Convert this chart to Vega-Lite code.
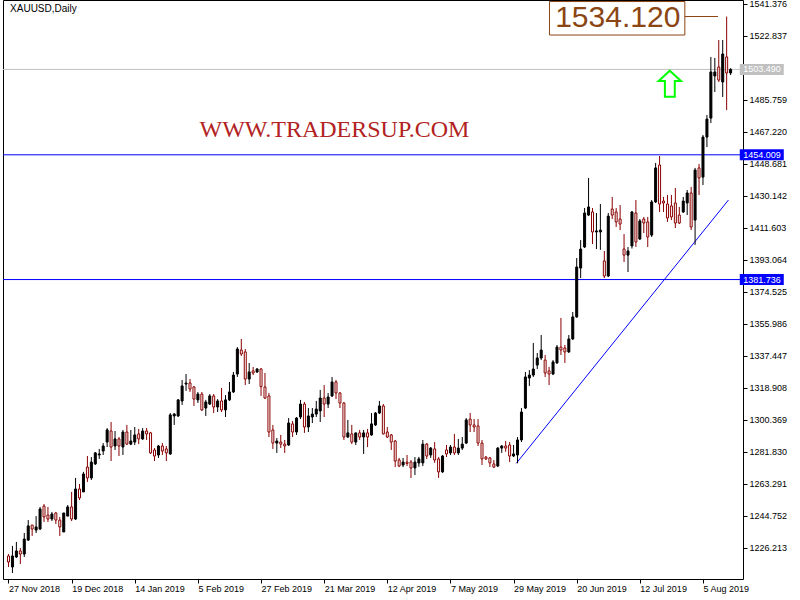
{
"$schema": "https://vega.github.io/schema/vega-lite/v6.json",
"width": 740, "height": 579,
"autosize": "none",
"padding": {"left": 3, "top": 0, "right": 57, "bottom": 21},
"background": "#ffffff",
"config": {
 "view": {"stroke": "#000000", "strokeWidth": 1},
 "axis": {"domain": false, "grid": false, "tickSize": 4, "tickColor": "#000000", "labelFont": "Liberation Sans", "labelFontSize": 9, "labelColor": "#000000", "labelFlush": false, "labelOverlap": false},
 "axisX": {"labelAlign": "left", "labelBaseline": "top", "labelPadding": 1},
 "axisY": {"labelAlign": "left", "labelBaseline": "middle", "labelPadding": 2}
},
"datasets": {"bars": [
{"i":0,"o":1221.6,"h":1222.7,"l":1215.2,"c":1218.1},
{"i":1,"o":1215.2,"h":1227.4,"l":1211.7,"c":1221.6},
{"i":2,"o":1221.0,"h":1229.7,"l":1220.4,"c":1224.5},
{"i":3,"o":1224.5,"h":1226.2,"l":1216.9,"c":1222.7},
{"i":4,"o":1222.7,"h":1234.9,"l":1221.0,"c":1231.4},
{"i":5,"o":1230.8,"h":1242.4,"l":1230.3,"c":1239.0},
{"i":6,"o":1239.5,"h":1239.5,"l":1233.2,"c":1237.2},
{"i":7,"o":1236.6,"h":1244.7,"l":1234.9,"c":1238.4},
{"i":8,"o":1237.2,"h":1250.0,"l":1236.6,"c":1248.8},
{"i":9,"o":1250.5,"h":1251.7,"l":1241.3,"c":1244.2},
{"i":10,"o":1245.3,"h":1250.0,"l":1241.3,"c":1243.0},
{"i":11,"o":1243.0,"h":1247.1,"l":1241.8,"c":1245.9},
{"i":12,"o":1246.5,"h":1247.1,"l":1240.1,"c":1242.4},
{"i":13,"o":1242.4,"h":1244.2,"l":1233.2,"c":1238.4},
{"i":14,"o":1235.5,"h":1246.5,"l":1235.5,"c":1246.5},
{"i":15,"o":1244.7,"h":1251.1,"l":1244.7,"c":1250.0},
{"i":16,"o":1250.0,"h":1258.7,"l":1241.8,"c":1243.0},
{"i":17,"o":1243.0,"h":1266.8,"l":1242.4,"c":1260.4},
{"i":18,"o":1260.4,"h":1263.3,"l":1254.0,"c":1255.2},
{"i":19,"o":1258.7,"h":1270.3,"l":1258.7,"c":1269.1},
{"i":20,"o":1273.1,"h":1279.5,"l":1264.5,"c":1266.8},
{"i":21,"o":1266.8,"h":1278.9,"l":1265.6,"c":1276.0},
{"i":22,"o":1274.9,"h":1281.8,"l":1274.3,"c":1281.3},
{"i":23,"o":1280.1,"h":1283.6,"l":1277.8,"c":1280.7},
{"i":24,"o":1282.4,"h":1287.0,"l":1280.1,"c":1285.3},
{"i":25,"o":1287.6,"h":1295.7,"l":1284.7,"c":1294.6},
{"i":26,"o":1294.0,"h":1299.2,"l":1276.6,"c":1284.7},
{"i":27,"o":1285.3,"h":1294.0,"l":1283.0,"c":1289.4},
{"i":28,"o":1289.4,"h":1290.5,"l":1279.5,"c":1285.3},
{"i":29,"o":1284.7,"h":1294.6,"l":1280.1,"c":1293.4},
{"i":30,"o":1293.4,"h":1297.5,"l":1285.9,"c":1286.4},
{"i":31,"o":1286.4,"h":1294.6,"l":1285.8,"c":1288.2},
{"i":32,"o":1287.6,"h":1296.3,"l":1285.9,"c":1291.7},
{"i":33,"o":1292.3,"h":1295.2,"l":1286.4,"c":1289.4},
{"i":34,"o":1289.4,"h":1295.7,"l":1288.8,"c":1294.0},
{"i":35,"o":1294.0,"h":1295.7,"l":1288.8,"c":1292.3},
{"i":36,"o":1292.9,"h":1293.5,"l":1280.7,"c":1281.3},
{"i":37,"o":1283.0,"h":1284.1,"l":1276.6,"c":1279.5},
{"i":38,"o":1280.1,"h":1285.9,"l":1278.4,"c":1285.3},
{"i":39,"o":1285.3,"h":1287.0,"l":1280.1,"c":1282.4},
{"i":40,"o":1283.6,"h":1285.3,"l":1276.6,"c":1281.3},
{"i":41,"o":1280.7,"h":1304.4,"l":1280.1,"c":1303.3},
{"i":42,"o":1302.7,"h":1304.4,"l":1297.5,"c":1303.8},
{"i":43,"o":1302.7,"h":1312.5,"l":1302.1,"c":1312.0},
{"i":44,"o":1311.4,"h":1323.5,"l":1309.1,"c":1320.1},
{"i":45,"o":1321.2,"h":1327.0,"l":1317.2,"c":1321.8},
{"i":46,"o":1321.8,"h":1324.1,"l":1316.6,"c":1318.3},
{"i":47,"o":1319.5,"h":1320.0,"l":1308.5,"c":1312.5},
{"i":48,"o":1312.0,"h":1316.6,"l":1310.2,"c":1315.4},
{"i":49,"o":1315.4,"h":1316.6,"l":1305.6,"c":1306.2},
{"i":50,"o":1307.3,"h":1312.0,"l":1302.7,"c":1310.8},
{"i":51,"o":1309.6,"h":1315.4,"l":1309.1,"c":1314.3},
{"i":52,"o":1314.3,"h":1315.4,"l":1304.4,"c":1307.9},
{"i":53,"o":1307.9,"h":1312.5,"l":1305.0,"c":1311.4},
{"i":54,"o":1311.4,"h":1318.9,"l":1305.0,"c":1306.2},
{"i":55,"o":1306.2,"h":1314.8,"l":1302.1,"c":1312.0},
{"i":56,"o":1312.0,"h":1322.4,"l":1311.4,"c":1316.6},
{"i":57,"o":1316.6,"h":1328.2,"l":1316.0,"c":1326.4},
{"i":58,"o":1327.0,"h":1342.6,"l":1325.3,"c":1341.5},
{"i":59,"o":1340.9,"h":1347.3,"l":1337.5,"c":1338.6},
{"i":60,"o":1339.8,"h":1341.5,"l":1320.6,"c":1324.1},
{"i":61,"o":1324.1,"h":1333.4,"l":1321.2,"c":1328.2},
{"i":62,"o":1328.8,"h":1331.1,"l":1326.4,"c":1327.6},
{"i":63,"o":1328.2,"h":1330.5,"l":1327.6,"c":1329.9},
{"i":64,"o":1329.9,"h":1330.5,"l":1314.3,"c":1319.7},
{"i":65,"o":1319.5,"h":1327.6,"l":1312.5,"c":1313.1},
{"i":66,"o":1314.3,"h":1316.0,"l":1290.5,"c":1293.4},
{"i":67,"o":1294.6,"h":1297.5,"l":1283.6,"c":1287.0},
{"i":68,"o":1287.0,"h":1289.9,"l":1281.3,"c":1288.2},
{"i":69,"o":1287.6,"h":1291.7,"l":1284.1,"c":1286.4},
{"i":70,"o":1286.4,"h":1288.8,"l":1281.3,"c":1285.3},
{"i":71,"o":1285.9,"h":1301.5,"l":1285.3,"c":1298.6},
{"i":72,"o":1298.1,"h":1299.8,"l":1290.5,"c":1293.4},
{"i":73,"o":1293.4,"h":1302.1,"l":1291.7,"c":1301.5},
{"i":74,"o":1302.1,"h":1312.0,"l":1300.9,"c":1309.6},
{"i":75,"o":1309.6,"h":1310.8,"l":1292.9,"c":1296.3},
{"i":76,"o":1296.3,"h":1307.3,"l":1293.4,"c":1302.7},
{"i":77,"o":1302.1,"h":1307.3,"l":1298.6,"c":1303.8},
{"i":78,"o":1303.8,"h":1311.4,"l":1302.1,"c":1306.7},
{"i":79,"o":1305.6,"h":1317.8,"l":1299.2,"c":1313.1},
{"i":80,"o":1313.1,"h":1320.6,"l":1302.1,"c":1309.6},
{"i":81,"o":1309.6,"h":1316.0,"l":1307.3,"c":1313.7},
{"i":82,"o":1314.3,"h":1325.3,"l":1313.7,"c":1322.4},
{"i":83,"o":1322.4,"h":1323.5,"l":1312.5,"c":1316.0},
{"i":84,"o":1316.0,"h":1316.6,"l":1307.3,"c":1310.2},
{"i":85,"o":1310.2,"h":1310.8,"l":1288.8,"c":1290.5},
{"i":86,"o":1290.5,"h":1300.4,"l":1290.0,"c":1292.9},
{"i":87,"o":1292.3,"h":1297.5,"l":1286.4,"c":1287.6},
{"i":88,"o":1287.6,"h":1292.9,"l":1285.9,"c":1292.9},
{"i":89,"o":1292.9,"h":1294.6,"l":1288.8,"c":1290.5},
{"i":90,"o":1290.5,"h":1294.6,"l":1280.7,"c":1292.9},
{"i":91,"o":1292.9,"h":1295.2,"l":1284.7,"c":1290.5},
{"i":92,"o":1291.7,"h":1304.4,"l":1291.2,"c":1298.1},
{"i":93,"o":1297.5,"h":1305.0,"l":1296.9,"c":1304.4},
{"i":94,"o":1304.4,"h":1311.4,"l":1303.8,"c":1308.5},
{"i":95,"o":1308.5,"h":1309.6,"l":1292.0,"c":1292.3},
{"i":96,"o":1293.4,"h":1296.3,"l":1289.9,"c":1290.5},
{"i":97,"o":1291.7,"h":1292.3,"l":1283.0,"c":1287.6},
{"i":98,"o":1288.2,"h":1288.8,"l":1273.1,"c":1276.6},
{"i":99,"o":1277.2,"h":1278.4,"l":1273.1,"c":1273.7},
{"i":100,"o":1274.3,"h":1278.4,"l":1273.1,"c":1276.0},
{"i":101,"o":1276.0,"h":1280.1,"l":1273.7,"c":1275.2},
{"i":102,"o":1276.0,"h":1277.2,"l":1266.8,"c":1272.6},
{"i":103,"o":1272.6,"h":1278.9,"l":1268.5,"c":1276.0},
{"i":104,"o":1275.5,"h":1279.0,"l":1273.3,"c":1277.8},
{"i":105,"o":1275.5,"h":1288.8,"l":1273.7,"c":1286.4},
{"i":106,"o":1286.4,"h":1287.0,"l":1277.8,"c":1279.5},
{"i":107,"o":1280.1,"h":1284.7,"l":1278.4,"c":1284.1},
{"i":108,"o":1283.6,"h":1287.6,"l":1275.5,"c":1277.2},
{"i":109,"o":1277.8,"h":1278.9,"l":1266.8,"c":1270.3},
{"i":110,"o":1270.3,"h":1280.1,"l":1269.7,"c":1279.5},
{"i":111,"o":1283.0,"h":1285.9,"l":1278.9,"c":1280.7},
{"i":112,"o":1281.3,"h":1285.9,"l":1280.1,"c":1284.7},
{"i":113,"o":1284.7,"h":1292.3,"l":1280.1,"c":1281.3},
{"i":114,"o":1281.3,"h":1289.4,"l":1280.1,"c":1284.1},
{"i":115,"o":1284.1,"h":1290.5,"l":1283.0,"c":1286.4},
{"i":116,"o":1287.0,"h":1301.5,"l":1286.4,"c":1300.4},
{"i":117,"o":1300.9,"h":1304.4,"l":1293.4,"c":1297.5},
{"i":118,"o":1297.5,"h":1300.9,"l":1293.4,"c":1296.3},
{"i":119,"o":1296.9,"h":1300.9,"l":1285.3,"c":1287.0},
{"i":120,"o":1287.0,"h":1288.8,"l":1274.3,"c":1277.8},
{"i":121,"o":1278.9,"h":1279.5,"l":1277.2,"c":1277.8},
{"i":122,"o":1278.4,"h":1278.9,"l":1273.1,"c":1275.5},
{"i":123,"o":1274.9,"h":1277.2,"l":1272.6,"c":1273.1},
{"i":124,"o":1273.7,"h":1284.7,"l":1273.1,"c":1284.1},
{"i":125,"o":1284.1,"h":1285.9,"l":1281.3,"c":1285.3},
{"i":126,"o":1285.3,"h":1288.2,"l":1282.0,"c":1284.1},
{"i":127,"o":1285.9,"h":1287.6,"l":1276.0,"c":1279.5},
{"i":128,"o":1279.5,"h":1285.9,"l":1278.9,"c":1280.7},
{"i":129,"o":1280.1,"h":1290.5,"l":1275.3,"c":1288.8},
{"i":130,"o":1288.8,"h":1307.3,"l":1287.6,"c":1305.0},
{"i":131,"o":1307.3,"h":1328.2,"l":1306.7,"c":1325.3},
{"i":132,"o":1324.7,"h":1329.3,"l":1320.1,"c":1326.4},
{"i":133,"o":1326.4,"h":1345.0,"l":1325.3,"c":1329.9},
{"i":134,"o":1332.2,"h":1339.2,"l":1329.9,"c":1336.3},
{"i":135,"o":1336.3,"h":1349.6,"l":1335.1,"c":1340.9},
{"i":136,"o":1335.1,"h":1338.0,"l":1325.3,"c":1327.6},
{"i":137,"o":1328.8,"h":1331.1,"l":1320.6,"c":1327.0},
{"i":138,"o":1327.0,"h":1335.1,"l":1326.4,"c":1334.0},
{"i":139,"o":1333.4,"h":1343.8,"l":1333.0,"c":1342.6},
{"i":140,"o":1342.6,"h":1359.5,"l":1338.0,"c":1340.9},
{"i":141,"o":1342.1,"h":1343.8,"l":1333.4,"c":1339.8},
{"i":142,"o":1339.8,"h":1349.6,"l":1339.2,"c":1347.3},
{"i":143,"o":1347.3,"h":1362.9,"l":1346.7,"c":1360.1},
{"i":144,"o":1360.1,"h":1394.2,"l":1359.5,"c":1389.0},
{"i":145,"o":1388.4,"h":1404.6,"l":1382.6,"c":1399.4},
{"i":146,"o":1400.6,"h":1423.2,"l":1400.0,"c":1420.3},
{"i":147,"o":1419.1,"h":1440.6,"l":1418.5,"c":1423.8},
{"i":148,"o":1420.9,"h":1423.2,"l":1402.3,"c":1409.3},
{"i":149,"o":1409.3,"h":1420.3,"l":1399.4,"c":1409.9},
{"i":150,"o":1409.3,"h":1425.5,"l":1398.9,"c":1410.4},
{"i":151,"o":1392.5,"h":1398.3,"l":1382.6,"c":1383.8},
{"i":152,"o":1383.8,"h":1420.3,"l":1383.2,"c":1418.5},
{"i":153,"o":1422.6,"h":1429.6,"l":1416.8,"c":1419.1},
{"i":154,"o":1420.9,"h":1423.2,"l":1412.2,"c":1415.1},
{"i":155,"o":1416.8,"h":1424.9,"l":1410.4,"c":1413.9},
{"i":156,"o":1399.4,"h":1408.1,"l":1391.9,"c":1395.9},
{"i":157,"o":1395.9,"h":1400.6,"l":1386.1,"c":1398.3},
{"i":158,"o":1401.2,"h":1421.4,"l":1399.7,"c":1420.9},
{"i":159,"o":1420.3,"h":1427.8,"l":1400.6,"c":1403.5},
{"i":160,"o":1405.2,"h":1416.8,"l":1404.7,"c":1415.7},
{"i":161,"o":1416.8,"h":1418.0,"l":1408.7,"c":1414.5},
{"i":162,"o":1415.1,"h":1418.0,"l":1400.6,"c":1406.4},
{"i":163,"o":1407.5,"h":1427.8,"l":1406.4,"c":1426.7},
{"i":164,"o":1426.7,"h":1449.3,"l":1426.1,"c":1446.4},
{"i":165,"o":1448.1,"h":1453.3,"l":1420.9,"c":1425.5},
{"i":166,"o":1427.2,"h":1429.6,"l":1420.9,"c":1426.1},
{"i":167,"o":1425.5,"h":1430.7,"l":1415.1,"c":1417.4},
{"i":168,"o":1424.4,"h":1430.7,"l":1416.2,"c":1418.0},
{"i":169,"o":1426.1,"h":1434.8,"l":1411.6,"c":1414.5},
{"i":170,"o":1419.1,"h":1423.8,"l":1413.9,"c":1414.5},
{"i":171,"o":1420.9,"h":1429.6,"l":1420.3,"c":1427.2},
{"i":172,"o":1426.1,"h":1433.6,"l":1419.1,"c":1431.9},
{"i":173,"o":1431.9,"h":1435.4,"l":1410.4,"c":1412.2},
{"i":174,"o":1416.2,"h":1446.4,"l":1401.8,"c":1445.2},
{"i":175,"o":1446.4,"h":1448.7,"l":1430.7,"c":1440.6},
{"i":176,"o":1441.1,"h":1465.5,"l":1436.5,"c":1464.3},
{"i":177,"o":1464.3,"h":1477.1,"l":1458.5,"c":1474.7},
{"i":178,"o":1475.3,"h":1510.7,"l":1472.4,"c":1502.0},
{"i":179,"o":1499.7,"h":1510.1,"l":1490.4,"c":1502.0},
{"i":180,"o":1504.9,"h":1520.5,"l":1496.2,"c":1497.3},
{"i":181,"o":1496.2,"h":1520.5,"l":1487.5,"c":1512.4},
{"i":182,"o":1510.7,"h":1534.12,"l":1479.9,"c":1501.4},
{"i":183,"o":1501.4,"h":1504.2,"l":1500.2,"c":1503.49}
],
"levels": [{"v": 1454.009}, {"v": 1381.736}],
"bid": [{"v": 1503.49}],
"trend": [{"i": 128.7, "p": 1275.3}, {"i": 182.45, "p": 1427.8}],
"one": [{}]
},
"layer": [
{"data": {"name": "levels"},
 "mark": {"type": "rule", "color": "#0000FF", "strokeWidth": 1},
 "encoding": {"y": {"field": "v", "type": "quantitative", "scale": {"domain": [1208.25, 1543.693], "nice": false, "zero": false}, "axis": {"orient": "right", "values": [1226.213,1244.752,1263.291,1281.83,1300.369,1318.908,1337.447,1355.986,1374.525,1393.064,1411.603,1430.142,1448.681,1467.22,1485.759,1522.837,1541.376], "format": ".3f", "title": null}}}},
{"data": {"name": "bid"},
 "mark": {"type": "rule", "color": "#C0C0C0", "strokeWidth": 1},
 "encoding": {"y": {"field": "v", "type": "quantitative", "scale": {"domain": [1208.25, 1543.693], "nice": false, "zero": false}, "axis": {"orient": "right", "values": [1226.213,1244.752,1263.291,1281.83,1300.369,1318.908,1337.447,1355.986,1374.525,1393.064,1411.603,1430.142,1448.681,1467.22,1485.759,1522.837,1541.376], "format": ".3f", "title": null}}}},
{"data": {"name": "trend"},
 "mark": {"type": "line", "color": "#0000FF", "strokeWidth": 1},
 "encoding": {
  "x": {"field": "i", "type": "quantitative", "scale": {"domain": [-0.125, 184.875], "nice": false, "zero": false}, "axis": {"values": [0,16,32,48,64,80,96,112,128,144,160,176], "labelExpr": "['27 Nov 2018','19 Dec 2018','14 Jan 2019','5 Feb 2019','27 Feb 2019','21 Mar 2019','12 Apr 2019','7 May 2019','29 May 2019','20 Jun 2019','12 Jul 2019','5 Aug 2019'][round(datum.value/16)]", "title": null}},
  "y": {"field": "p", "type": "quantitative", "scale": {"domain": [1208.25, 1543.693], "nice": false, "zero": false}, "axis": {"orient": "right", "values": [1226.213,1244.752,1263.291,1281.83,1300.369,1318.908,1337.447,1355.986,1374.525,1393.064,1411.603,1430.142,1448.681,1467.22,1485.759,1522.837,1541.376], "format": ".3f", "title": null}}}},
{"data": {"name": "bars"},
 "mark": {"type": "rule", "strokeWidth": 1},
 "encoding": {
  "x": {"field": "i", "type": "quantitative", "scale": {"domain": [-0.125, 184.875], "nice": false, "zero": false}, "axis": {"values": [0,16,32,48,64,80,96,112,128,144,160,176], "labelExpr": "['27 Nov 2018','19 Dec 2018','14 Jan 2019','5 Feb 2019','27 Feb 2019','21 Mar 2019','12 Apr 2019','7 May 2019','29 May 2019','20 Jun 2019','12 Jul 2019','5 Aug 2019'][round(datum.value/16)]", "title": null}},
  "y": {"field": "l", "type": "quantitative", "scale": {"domain": [1208.25, 1543.693], "nice": false, "zero": false}, "axis": {"orient": "right", "values": [1226.213,1244.752,1263.291,1281.83,1300.369,1318.908,1337.447,1355.986,1374.525,1393.064,1411.603,1430.142,1448.681,1467.22,1485.759,1522.837,1541.376], "format": ".3f", "title": null}},
  "y2": {"field": "h"},
  "color": {"condition": {"test": "datum.c >= datum.o", "value": "#000000"}, "value": "#8B0000"}}},
{"data": {"name": "bars"},
 "transform": [{"filter": "datum.c >= datum.o"}],
 "mark": {"type": "bar", "width": 2, "fill": "#000000", "stroke": "#000000", "strokeWidth": 1},
 "encoding": {
  "x": {"field": "i", "type": "quantitative", "scale": {"domain": [-0.125, 184.875], "nice": false, "zero": false}, "axis": {"values": [0,16,32,48,64,80,96,112,128,144,160,176], "labelExpr": "['27 Nov 2018','19 Dec 2018','14 Jan 2019','5 Feb 2019','27 Feb 2019','21 Mar 2019','12 Apr 2019','7 May 2019','29 May 2019','20 Jun 2019','12 Jul 2019','5 Aug 2019'][round(datum.value/16)]", "title": null}},
  "y": {"field": "o", "type": "quantitative", "scale": {"domain": [1208.25, 1543.693], "nice": false, "zero": false}, "axis": {"orient": "right", "values": [1226.213,1244.752,1263.291,1281.83,1300.369,1318.908,1337.447,1355.986,1374.525,1393.064,1411.603,1430.142,1448.681,1467.22,1485.759,1522.837,1541.376], "format": ".3f", "title": null}},
  "y2": {"field": "c"}}},
{"data": {"name": "bars"},
 "transform": [{"filter": "datum.c < datum.o"}],
 "mark": {"type": "bar", "width": 2, "fill": "#ffffff", "stroke": "#8B0000", "strokeWidth": 1},
 "encoding": {
  "x": {"field": "i", "type": "quantitative", "scale": {"domain": [-0.125, 184.875], "nice": false, "zero": false}, "axis": {"values": [0,16,32,48,64,80,96,112,128,144,160,176], "labelExpr": "['27 Nov 2018','19 Dec 2018','14 Jan 2019','5 Feb 2019','27 Feb 2019','21 Mar 2019','12 Apr 2019','7 May 2019','29 May 2019','20 Jun 2019','12 Jul 2019','5 Aug 2019'][round(datum.value/16)]", "title": null}},
  "y": {"field": "o", "type": "quantitative", "scale": {"domain": [1208.25, 1543.693], "nice": false, "zero": false}, "axis": {"orient": "right", "values": [1226.213,1244.752,1263.291,1281.83,1300.369,1318.908,1337.447,1355.986,1374.525,1393.064,1411.603,1430.142,1448.681,1467.22,1485.759,1522.837,1541.376], "format": ".3f", "title": null}},
  "y2": {"field": "c"}}},
{"data": {"name": "one"},
 "mark": {"type": "text", "text": "WWW.TRADERSUP.COM", "font": "Liberation Serif", "fontSize": 24, "color": "#B22222", "align": "center", "baseline": "middle"},
 "encoding": {
  "x": {"datum": 82.6, "type": "quantitative", "scale": {"domain": [-0.125, 184.875], "nice": false, "zero": false}, "axis": {"values": [0,16,32,48,64,80,96,112,128,144,160,176], "labelExpr": "['27 Nov 2018','19 Dec 2018','14 Jan 2019','5 Feb 2019','27 Feb 2019','21 Mar 2019','12 Apr 2019','7 May 2019','29 May 2019','20 Jun 2019','12 Jul 2019','5 Aug 2019'][round(datum.value/16)]", "title": null}},
  "y": {"datum": 1468.4, "type": "quantitative", "scale": {"domain": [1208.25, 1543.693], "nice": false, "zero": false}, "axis": {"orient": "right", "values": [1226.213,1244.752,1263.291,1281.83,1300.369,1318.908,1337.447,1355.986,1374.525,1393.064,1411.603,1430.142,1448.681,1467.22,1485.759,1522.837,1541.376], "format": ".3f", "title": null}}}},
{"data": {"name": "one"},
 "mark": {"type": "text", "text": "XAUUSD,Daily", "font": "Liberation Sans", "fontSize": 10, "color": "#000000", "align": "left", "baseline": "middle"},
 "encoding": {
  "x": {"datum": 0.4, "type": "quantitative", "scale": {"domain": [-0.125, 184.875], "nice": false, "zero": false}, "axis": {"values": [0,16,32,48,64,80,96,112,128,144,160,176], "labelExpr": "['27 Nov 2018','19 Dec 2018','14 Jan 2019','5 Feb 2019','27 Feb 2019','21 Mar 2019','12 Apr 2019','7 May 2019','29 May 2019','20 Jun 2019','12 Jul 2019','5 Aug 2019'][round(datum.value/16)]", "title": null}},
  "y": {"datum": 1538.5, "type": "quantitative", "scale": {"domain": [1208.25, 1543.693], "nice": false, "zero": false}, "axis": {"orient": "right", "values": [1226.213,1244.752,1263.291,1281.83,1300.369,1318.908,1337.447,1355.986,1374.525,1393.064,1411.603,1430.142,1448.681,1467.22,1485.759,1522.837,1541.376], "format": ".3f", "title": null}}}},
{"data": {"name": "one"},
 "mark": {"type": "point", "shape": "M0,-1L0.86,-0.2L0.38,-0.2L0.38,1L-0.38,1L-0.38,-0.2L-0.86,-0.2Z", "size": 676, "filled": true, "fill": "#ffffff", "fillOpacity": 1, "stroke": "#00FF00", "strokeWidth": 2, "opacity": 1},
 "encoding": {
  "x": {"datum": 167.6, "type": "quantitative", "scale": {"domain": [-0.125, 184.875], "nice": false, "zero": false}, "axis": {"values": [0,16,32,48,64,80,96,112,128,144,160,176], "labelExpr": "['27 Nov 2018','19 Dec 2018','14 Jan 2019','5 Feb 2019','27 Feb 2019','21 Mar 2019','12 Apr 2019','7 May 2019','29 May 2019','20 Jun 2019','12 Jul 2019','5 Aug 2019'][round(datum.value/16)]", "title": null}},
  "y": {"datum": 1495.2, "type": "quantitative", "scale": {"domain": [1208.25, 1543.693], "nice": false, "zero": false}, "axis": {"orient": "right", "values": [1226.213,1244.752,1263.291,1281.83,1300.369,1318.908,1337.447,1355.986,1374.525,1393.064,1411.603,1430.142,1448.681,1467.22,1485.759,1522.837,1541.376], "format": ".3f", "title": null}}}},
{"data": {"name": "one"},
 "mark": {"type": "rect", "fillOpacity": 0, "stroke": "#8B4513", "strokeWidth": 1},
 "encoding": {
  "x": {"datum": 137.1, "type": "quantitative", "scale": {"domain": [-0.125, 184.875], "nice": false, "zero": false}, "axis": {"values": [0,16,32,48,64,80,96,112,128,144,160,176], "labelExpr": "['27 Nov 2018','19 Dec 2018','14 Jan 2019','5 Feb 2019','27 Feb 2019','21 Mar 2019','12 Apr 2019','7 May 2019','29 May 2019','20 Jun 2019','12 Jul 2019','5 Aug 2019'][round(datum.value/16)]", "title": null}},
  "x2": {"datum": 171.4},
  "y": {"datum": 1542.8, "type": "quantitative", "scale": {"domain": [1208.25, 1543.693], "nice": false, "zero": false}, "axis": {"orient": "right", "values": [1226.213,1244.752,1263.291,1281.83,1300.369,1318.908,1337.447,1355.986,1374.525,1393.064,1411.603,1430.142,1448.681,1467.22,1485.759,1522.837,1541.376], "format": ".3f", "title": null}},
  "y2": {"datum": 1523.4}}},
{"data": {"name": "one"},
 "mark": {"type": "text", "text": "1534.120", "font": "Liberation Sans", "fontSize": 30, "color": "#8B4513", "align": "center", "baseline": "middle"},
 "encoding": {
  "x": {"datum": 154.4, "type": "quantitative", "scale": {"domain": [-0.125, 184.875], "nice": false, "zero": false}, "axis": {"values": [0,16,32,48,64,80,96,112,128,144,160,176], "labelExpr": "['27 Nov 2018','19 Dec 2018','14 Jan 2019','5 Feb 2019','27 Feb 2019','21 Mar 2019','12 Apr 2019','7 May 2019','29 May 2019','20 Jun 2019','12 Jul 2019','5 Aug 2019'][round(datum.value/16)]", "title": null}},
  "y": {"datum": 1533.0, "type": "quantitative", "scale": {"domain": [1208.25, 1543.693], "nice": false, "zero": false}, "axis": {"orient": "right", "values": [1226.213,1244.752,1263.291,1281.83,1300.369,1318.908,1337.447,1355.986,1374.525,1393.064,1411.603,1430.142,1448.681,1467.22,1485.759,1522.837,1541.376], "format": ".3f", "title": null}}}},
{"data": {"name": "one"},
 "mark": {"type": "rule", "color": "#8B4513", "strokeWidth": 1},
 "encoding": {
  "x": {"datum": 171.4, "type": "quantitative", "scale": {"domain": [-0.125, 184.875], "nice": false, "zero": false}, "axis": {"values": [0,16,32,48,64,80,96,112,128,144,160,176], "labelExpr": "['27 Nov 2018','19 Dec 2018','14 Jan 2019','5 Feb 2019','27 Feb 2019','21 Mar 2019','12 Apr 2019','7 May 2019','29 May 2019','20 Jun 2019','12 Jul 2019','5 Aug 2019'][round(datum.value/16)]", "title": null}},
  "x2": {"datum": 179.8},
  "y": {"datum": 1534.12, "type": "quantitative", "scale": {"domain": [1208.25, 1543.693], "nice": false, "zero": false}, "axis": {"orient": "right", "values": [1226.213,1244.752,1263.291,1281.83,1300.369,1318.908,1337.447,1355.986,1374.525,1393.064,1411.603,1430.142,1448.681,1467.22,1485.759,1522.837,1541.376], "format": ".3f", "title": null}}}},
{"data": {"name": "levels"},
 "mark": {"type": "point", "shape": "M-1,-0.25H1V0.25H-1Z", "size": 1936, "filled": true, "fill": "#0000FF", "fillOpacity": 1, "strokeWidth": 0, "opacity": 1},
 "encoding": {
  "x": {"datum": 190.9, "type": "quantitative", "scale": {"domain": [-0.125, 184.875], "nice": false, "zero": false}, "axis": {"values": [0,16,32,48,64,80,96,112,128,144,160,176], "labelExpr": "['27 Nov 2018','19 Dec 2018','14 Jan 2019','5 Feb 2019','27 Feb 2019','21 Mar 2019','12 Apr 2019','7 May 2019','29 May 2019','20 Jun 2019','12 Jul 2019','5 Aug 2019'][round(datum.value/16)]", "title": null}},
  "y": {"field": "v", "type": "quantitative", "scale": {"domain": [1208.25, 1543.693], "nice": false, "zero": false}, "axis": {"orient": "right", "values": [1226.213,1244.752,1263.291,1281.83,1300.369,1318.908,1337.447,1355.986,1374.525,1393.064,1411.603,1430.142,1448.681,1467.22,1485.759,1522.837,1541.376], "format": ".3f", "title": null}}}},
{"data": {"name": "levels"},
 "mark": {"type": "text", "font": "Liberation Sans", "fontSize": 9, "color": "#ffffff", "align": "left", "baseline": "middle"},
 "encoding": {
  "x": {"datum": 186.2, "type": "quantitative", "scale": {"domain": [-0.125, 184.875], "nice": false, "zero": false}, "axis": {"values": [0,16,32,48,64,80,96,112,128,144,160,176], "labelExpr": "['27 Nov 2018','19 Dec 2018','14 Jan 2019','5 Feb 2019','27 Feb 2019','21 Mar 2019','12 Apr 2019','7 May 2019','29 May 2019','20 Jun 2019','12 Jul 2019','5 Aug 2019'][round(datum.value/16)]", "title": null}},
  "y": {"field": "v", "type": "quantitative", "scale": {"domain": [1208.25, 1543.693], "nice": false, "zero": false}, "axis": {"orient": "right", "values": [1226.213,1244.752,1263.291,1281.83,1300.369,1318.908,1337.447,1355.986,1374.525,1393.064,1411.603,1430.142,1448.681,1467.22,1485.759,1522.837,1541.376], "format": ".3f", "title": null}},
  "text": {"field": "v", "type": "quantitative", "format": ".3f"}}},
{"data": {"name": "bid"},
 "mark": {"type": "point", "shape": "M-1,-0.25H1V0.25H-1Z", "size": 1936, "filled": true, "fill": "#C0C0C0", "fillOpacity": 1, "strokeWidth": 0, "opacity": 1},
 "encoding": {
  "x": {"datum": 190.9, "type": "quantitative", "scale": {"domain": [-0.125, 184.875], "nice": false, "zero": false}, "axis": {"values": [0,16,32,48,64,80,96,112,128,144,160,176], "labelExpr": "['27 Nov 2018','19 Dec 2018','14 Jan 2019','5 Feb 2019','27 Feb 2019','21 Mar 2019','12 Apr 2019','7 May 2019','29 May 2019','20 Jun 2019','12 Jul 2019','5 Aug 2019'][round(datum.value/16)]", "title": null}},
  "y": {"field": "v", "type": "quantitative", "scale": {"domain": [1208.25, 1543.693], "nice": false, "zero": false}, "axis": {"orient": "right", "values": [1226.213,1244.752,1263.291,1281.83,1300.369,1318.908,1337.447,1355.986,1374.525,1393.064,1411.603,1430.142,1448.681,1467.22,1485.759,1522.837,1541.376], "format": ".3f", "title": null}}}},
{"data": {"name": "bid"},
 "mark": {"type": "text", "font": "Liberation Sans", "fontSize": 9, "color": "#ffffff", "align": "left", "baseline": "middle"},
 "encoding": {
  "x": {"datum": 186.2, "type": "quantitative", "scale": {"domain": [-0.125, 184.875], "nice": false, "zero": false}, "axis": {"values": [0,16,32,48,64,80,96,112,128,144,160,176], "labelExpr": "['27 Nov 2018','19 Dec 2018','14 Jan 2019','5 Feb 2019','27 Feb 2019','21 Mar 2019','12 Apr 2019','7 May 2019','29 May 2019','20 Jun 2019','12 Jul 2019','5 Aug 2019'][round(datum.value/16)]", "title": null}},
  "y": {"field": "v", "type": "quantitative", "scale": {"domain": [1208.25, 1543.693], "nice": false, "zero": false}, "axis": {"orient": "right", "values": [1226.213,1244.752,1263.291,1281.83,1300.369,1318.908,1337.447,1355.986,1374.525,1393.064,1411.603,1430.142,1448.681,1467.22,1485.759,1522.837,1541.376], "format": ".3f", "title": null}},
  "text": {"field": "v", "type": "quantitative", "format": ".3f"}}}
]
}
